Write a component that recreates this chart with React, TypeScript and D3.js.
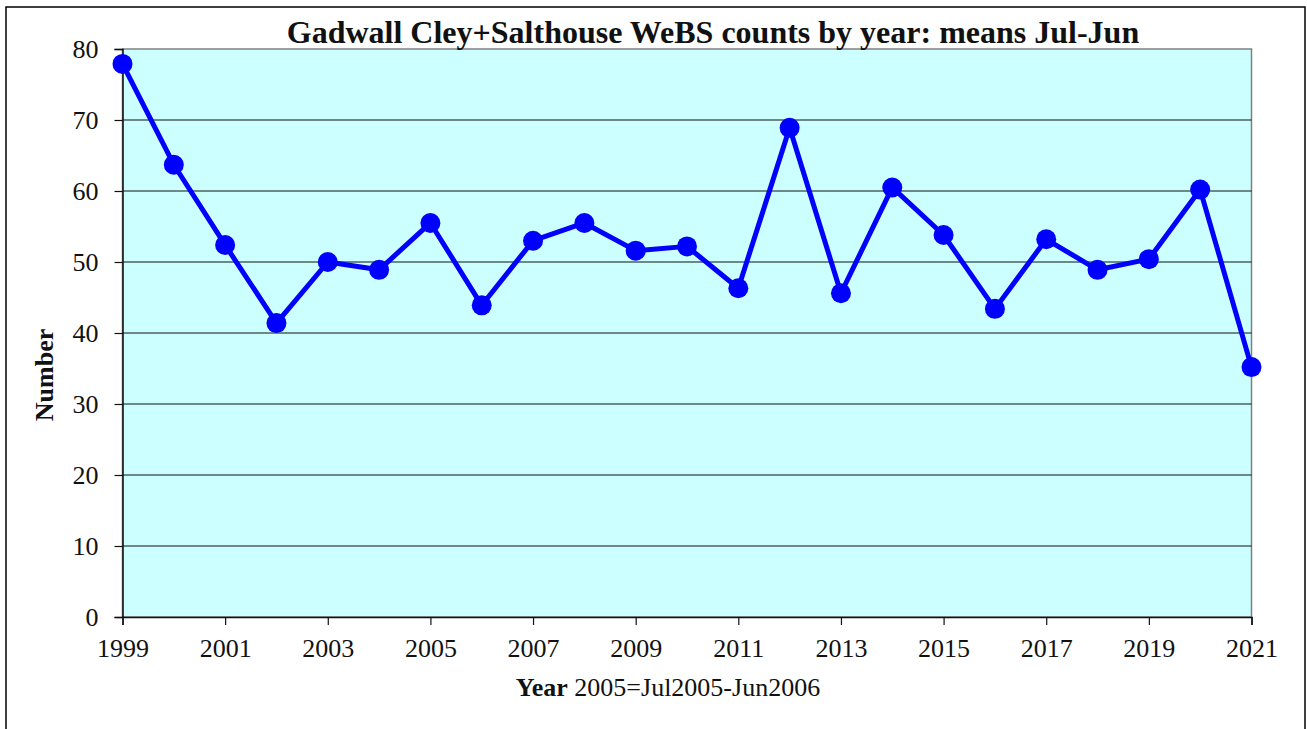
import React, { useEffect, useRef } from "react";
import * as d3 from "d3";

// Gadwall Cley+Salthouse WeBS means, Jul-Jun years
const years = [
  1999, 2000, 2001, 2002, 2003, 2004, 2005, 2006, 2007, 2008, 2009, 2010,
  2011, 2012, 2013, 2014, 2015, 2016, 2017, 2018, 2019, 2020, 2021,
];
const counts = [
  77.9, 63.7, 52.4, 41.4, 50.0, 48.9, 55.5, 43.9, 53.0, 55.5, 51.6, 52.2,
  46.3, 68.9, 45.6, 60.5, 53.8, 43.4, 53.2, 48.9, 50.4, 60.2, 35.2,
];
const yTicks = [0, 10, 20, 30, 40, 50, 60, 70, 80];
const xTicks = [1999, 2001, 2003, 2005, 2007, 2009, 2011, 2013, 2015, 2017, 2019, 2021];

const W = 1307;
const H = 729;
const FONT = "'Liberation Serif', 'Times New Roman', serif";

function App() {
  const ref = useRef<SVGSVGElement>(null);

  useEffect(() => {
    const svg = d3.select(ref.current);
    svg.selectAll("*").remove();

    const left = 122.5;
    const right = 1251.5;
    const top = 49;
    const bottom = 617;

    const x = d3.scaleLinear().domain([1999, 2021]).range([left, right]);
    const y = d3.scaleLinear().domain([0, 80]).range([bottom, top]);

    // outer frame
    svg
      .append("rect")
      .attr("x", 6)
      .attr("y", 7)
      .attr("width", 1299)
      .attr("height", H)
      .attr("fill", "white")
      .attr("stroke", "black")
      .attr("stroke-width", 1.5);

    // plot background
    svg
      .append("rect")
      .attr("x", left)
      .attr("y", top)
      .attr("width", right - left)
      .attr("height", bottom - top)
      .attr("fill", "#ccffff")
      .attr("stroke", "#808080")
      .attr("stroke-width", 1.5);

    // gridlines
    svg
      .append("g")
      .selectAll("line")
      .data(yTicks.filter((t) => t > 0 && t < 80))
      .join("line")
      .attr("x1", left)
      .attr("x2", right)
      .attr("y1", (d) => y(d))
      .attr("y2", (d) => y(d))
      .attr("stroke", "#111")
      .attr("stroke-width", 1.2);

    // y axis
    const yAxis = svg
      .append("g")
      .attr("transform", `translate(${left},0)`)
      .call(d3.axisLeft(y).tickValues(yTicks).tickSize(8).tickPadding(16));
    yAxis.select(".domain").attr("stroke", "#111").attr("stroke-width", 1.5);
    yAxis.selectAll(".tick line").attr("stroke", "#111").attr("stroke-width", 1.2);
    yAxis
      .selectAll(".tick text")
      .attr("font-family", FONT)
      .attr("font-size", 26)
      .attr("fill", "#111");

    // x axis
    const xAxis = svg
      .append("g")
      .attr("transform", `translate(0,${bottom})`)
      .call(
        d3
          .axisBottom(x)
          .tickValues(xTicks)
          .tickFormat(d3.format("d"))
          .tickSize(8)
      );
    xAxis.select(".domain").attr("stroke", "#111").attr("stroke-width", 1.5);
    xAxis.selectAll(".tick line").attr("stroke", "#111").attr("stroke-width", 1.2);
    xAxis
      .selectAll(".tick text")
      .attr("y", 40)
      .attr("dy", null)
      .attr("font-family", FONT)
      .attr("font-size", 26)
      .attr("fill", "#111");

    // line
    const line = d3
      .line<number>()
      .x((d, i) => x(years[i]))
      .y((d) => y(d));

    svg
      .append("path")
      .datum(counts)
      .attr("d", line)
      .attr("fill", "none")
      .attr("stroke", "#0000ff")
      .attr("stroke-width", 5)
      .attr("stroke-linejoin", "round");

    svg
      .append("g")
      .selectAll("circle")
      .data(counts)
      .join("circle")
      .attr("cx", (d, i) => x(years[i]))
      .attr("cy", (d) => y(d))
      .attr("r", 10)
      .attr("fill", "#0000ff");

    // title
    svg
      .append("text")
      .attr("x", 713)
      .attr("y", 43)
      .attr("text-anchor", "middle")
      .attr("font-family", FONT)
      .attr("font-weight", "bold")
      .attr("font-size", 32)
      .attr("fill", "#111")
      .text("Gadwall Cley+Salthouse WeBS counts by year: means Jul-Jun");

    // x axis title
    const xt = svg
      .append("text")
      .attr("x", 668)
      .attr("y", 696)
      .attr("text-anchor", "middle")
      .attr("font-family", FONT)
      .attr("font-size", 26)
      .attr("fill", "#111");
    xt.append("tspan").attr("font-weight", "bold").text("Year");
    xt.append("tspan").text(" 2005=Jul2005-Jun2006");

    // y axis title
    svg
      .append("text")
      .attr("transform", `translate(53,375) rotate(-90)`)
      .attr("text-anchor", "middle")
      .attr("font-family", FONT)
      .attr("font-weight", "bold")
      .attr("font-size", 26)
      .attr("fill", "#111")
      .text("Number");
  }, []);

  return (
    <svg
      ref={ref}
      width={W}
      height={H}
      style={{ position: "absolute", left: 0, top: 0, background: "white" }}
    />
  );
}

export default App;
